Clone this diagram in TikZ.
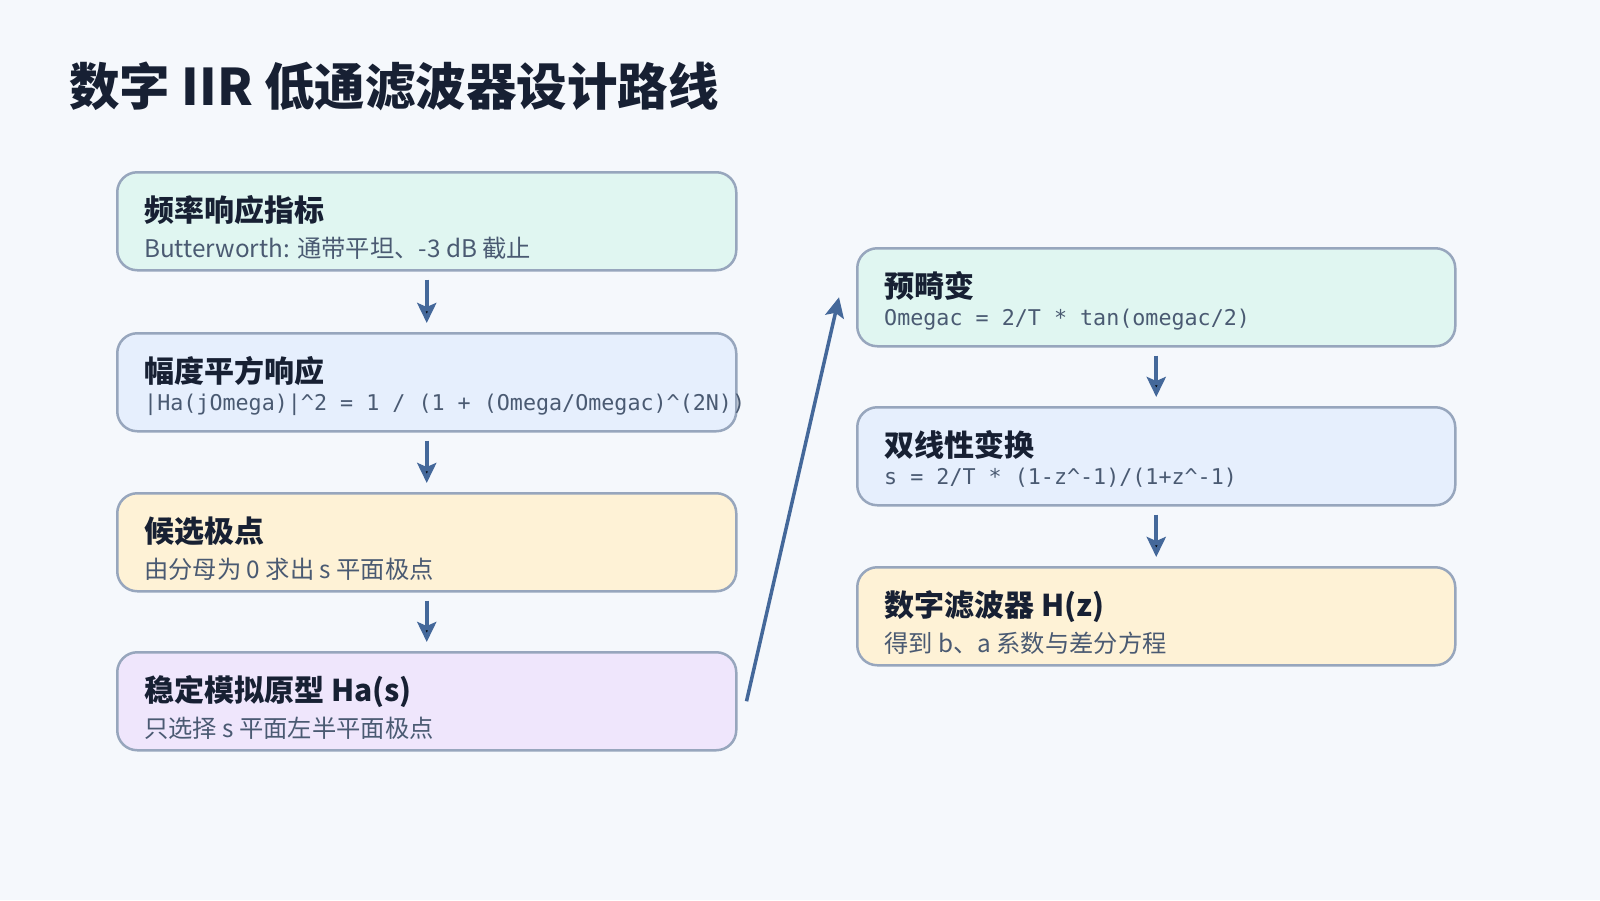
\documentclass[tikz,border=0pt]{standalone}
\usepackage{fontspec}
\setmainfont{Noto Sans CJK SC}
\newfontfamily\codefont{DejaVu Sans Mono}
\usetikzlibrary{arrows.meta,calc}

\definecolor{pagebg}{HTML}{F5F8FC}
\definecolor{boxline}{HTML}{97A6BD}
\definecolor{arrowblue}{HTML}{44689A}
\definecolor{inktitle}{HTML}{172033}
\definecolor{inksub}{HTML}{4A5A72}
\definecolor{mintfill}{HTML}{E0F6F1}
\definecolor{bluefill}{HTML}{E6EFFD}
\definecolor{creamfill}{HTML}{FEF2D6}
\definecolor{lilacfill}{HTML}{EFE6FC}

\begin{document}
\begin{tikzpicture}[x=1pt,y=1pt,
  stage/.style={draw=boxline,line width=2.5pt,rounded corners=20pt,minimum height=98pt,inner sep=0pt,anchor=north west},
  leftstage/.style={stage,minimum width=619pt},
  rightstage/.style={stage,minimum width=598pt},
  head/.style={anchor=base west,inner sep=0pt,text=inktitle,font=\fontsize{30}{30}\bfseries},
  sub/.style={anchor=base west,inner sep=0pt,text=inksub,font=\fontsize{24.3}{24.3}\selectfont},
  code/.style={anchor=base west,inner sep=0pt,text=inksub,font=\fontsize{21.7}{21.7}\codefont},
  flow/.style={draw=arrowblue,line width=4pt,-{Stealth[length=20pt,width=19pt,inset=4pt]}}]
  \fill[pagebg] (0,0) rectangle (1600,-900);
  \useasboundingbox (0,0) rectangle (1600,-900);

  \node[anchor=base west,inner sep=0pt,text=inktitle,font=\fontsize{50.5}{50.5}\bfseries](title)at(69,-105){数字 IIR 低通滤波器设计路线};

  % left column
  \node[leftstage,fill=mintfill](spec)at(116,-171){};
  \node[head](specH)at($(spec.north west)+(28,-50)$){频率响应指标};
  \node[sub](specT)at($(spec.north west)+(28,-86)$){Butterworth: 通带平坦、-3 dB 截止};

  \node[leftstage,fill=bluefill](mag)at(116,-332){};
  \node[head](magH)at($(mag.north west)+(28,-50)$){幅度平方响应};
  \node[code](magT)at($(mag.north west)+(28,-78)$){|Ha(jOmega)|\textasciicircum2 = 1 / (1 + (Omega/Omegac)\textasciicircum(2N))};

  \node[leftstage,fill=creamfill](poles)at(116,-492){};
  \node[head](polesH)at($(poles.north west)+(28,-50)$){候选极点};
  \node[sub](polesT)at($(poles.north west)+(28,-86)$){由分母为 0 求出 s 平面极点};

  \node[leftstage,fill=lilacfill](proto)at(116,-651){};
  \node[head](protoH)at($(proto.north west)+(28,-50)$){稳定模拟原型 Ha(s)};
  \node[sub](protoT)at($(proto.north west)+(28,-86)$){只选择 s 平面左半平面极点};

  % right column
  \node[rightstage,fill=mintfill](prewarp)at(856,-247){};
  \node[head](prewarpH)at($(prewarp.north west)+(28,-50)$){预畸变};
  \node[code](prewarpT)at($(prewarp.north west)+(28,-78)$){Omegac = 2/T * tan(omegac/2)};

  \node[rightstage,fill=bluefill](bilin)at(856,-406){};
  \node[head](bilinH)at($(bilin.north west)+(28,-50)$){双线性变换};
  \node[code](bilinT)at($(bilin.north west)+(28,-78)$){s = 2/T * (1-z\textasciicircum-1)/(1+z\textasciicircum-1)};

  \node[rightstage,fill=creamfill](digital)at(856,-566){};
  \node[head](digitalH)at($(digital.north west)+(28,-50)$){数字滤波器 H(z)};
  \node[sub](digitalT)at($(digital.north west)+(28,-86)$){得到 b、a 系数与差分方程};

  % connectors
  \path[flow,shorten <=8pt,shorten >=9pt]
    (spec) edge (mag)
    (mag) edge (poles)
    (poles) edge (proto)
    (prewarp) edge (bilin)
    (bilin) edge (digital);
  \draw[flow,line width=3.5pt]([xshift=9pt]proto.east) -- ([xshift=-17pt]prewarp.west);
\end{tikzpicture}
\end{document}
